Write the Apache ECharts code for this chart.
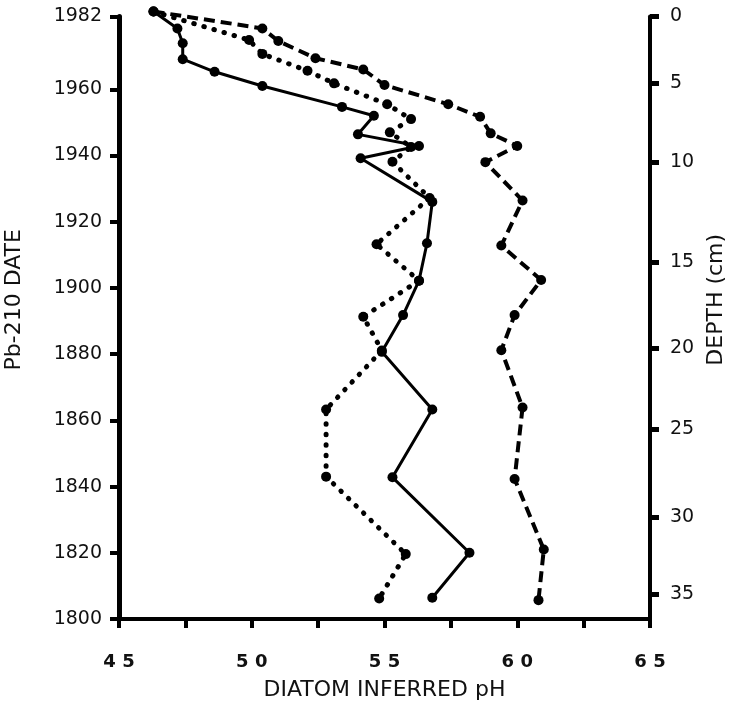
<!DOCTYPE html>
<html>
<head>
<meta charset="utf-8">
<script src="https://cdn.jsdelivr.net/npm/echarts@6/dist/echarts.min.js"></script>
<style>
html,body{margin:0;padding:0;background:#fff;}
#chart{width:745px;height:706px;}
</style>
</head>
<body>
<div id="chart"></div>
<script>
// Solid series: [pH, Pb-210 date]
const solidPH   = [4.63, 4.72, 4.74, 4.74, 4.86, 5.04, 5.34, 5.46, 5.40, 5.63, 5.41, 5.68, 5.66, 5.63, 5.57, 5.49, 5.68, 5.53, 5.82, 5.68];
const solidDate = [1983.5, 1978.4, 1973.9, 1969.1, 1965.3, 1961.0, 1954.7, 1952.0, 1946.4, 1942.9, 1939.2, 1926.0, 1913.5, 1902.2, 1891.8, 1880.7, 1863.3, 1842.8, 1820.0, 1806.4];
// Dashed series
const dashPH    = [4.63, 5.04, 5.10, 5.24, 5.42, 5.50, 5.74, 5.86, 5.90, 6.00, 5.88, 6.02, 5.94, 6.09, 5.99, 5.94, 6.02, 5.99, 6.10, 6.08];
const dashDate  = [1983.5, 1978.4, 1974.6, 1969.4, 1966.0, 1961.3, 1955.5, 1951.7, 1946.7, 1942.9, 1938.0, 1926.4, 1912.8, 1902.4, 1891.8, 1881.2, 1863.9, 1842.3, 1821.0, 1805.7];
// Dotted series
const dotPH     = [4.63, 4.99, 5.04, 5.21, 5.31, 5.51, 5.60, 5.52, 5.60, 5.53, 5.67, 5.47, 5.63, 5.42, 5.49, 5.28, 5.28, 5.58, 5.48];
const dotDate   = [1983.5, 1974.9, 1970.7, 1965.6, 1961.8, 1955.5, 1951.0, 1947.0, 1942.6, 1938.1, 1927.2, 1913.2, 1902.2, 1891.3, 1881.1, 1863.3, 1843.0, 1819.6, 1806.2];

// Axis ticks
const dateTicks  = [1800, 1820, 1840, 1860, 1880, 1900, 1920, 1940, 1960, 1982];
const phTicks    = [4.5, 5.0, 5.5, 6.0, 6.5];
const phLabels   = ['4 5', '5 0', '5 5', '6 0', '6 5'];
const depthLabels = [0, 5, 10, 15, 20, 25, 30, 35];
const depthDates  = [1982, 1961.9, 1938.0, 1907.8, 1881.8, 1857.4, 1830.8, 1807.5];

function pairs(xs, ys) { return xs.map((x, i) => [x, ys[i]]); }

const FONT = 'DejaVu Sans, Liberation Sans, sans-serif';
const chart = echarts.init(document.getElementById('chart'), null, {renderer: 'canvas'});

const markerBase = {symbol: 'circle', symbolSize: 10, itemStyle: {color: '#000'}, clip: false, z: 3};

chart.setOption({
  animation: false,
  backgroundColor: '#fff',
  grid: {left: 119, right: 95, top: 16.5, bottom: 87, containLabel: false, outerBoundsMode: 'none'},
  xAxis: {
    type: 'value', min: 4.5, max: 6.5, interval: 0.25,
    name: 'DIATOM INFERRED pH', nameLocation: 'middle', nameGap: 60,
    nameTextStyle: {fontFamily: FONT, fontSize: 22, color: '#111'},
    splitLine: {show: false},
    axisLine: {show: true, onZero: false, lineStyle: {color: '#000', width: 4}},
    axisTick: {show: true, inside: false, length: 9, lineStyle: {color: '#000', width: 4}},
    axisLabel: {
      customValues: phTicks, margin: 34,
      fontFamily: FONT, fontSize: 18, fontWeight: 'bold', color: '#111',
      formatter: v => { const i = phTicks.findIndex(t => Math.abs(t - v) < 1e-6); return i >= 0 ? phLabels[i] : ''; }
    }
  },
  yAxis: [
    {
      type: 'value', min: 1800, max: 1982, position: 'left',
      name: 'Pb-210 DATE', nameLocation: 'middle', nameGap: 94, nameRotate: 90,
      nameTextStyle: {fontFamily: FONT, fontSize: 22, color: '#111', padding: [0, 0, 0, 36]},
      splitLine: {show: false},
      axisLine: {show: true, onZero: false, lineStyle: {color: '#000', width: 5}},
      axisTick: {show: true, customValues: dateTicks, length: 9, lineStyle: {color: '#000', width: 4}},
      axisLabel: {customValues: dateTicks, margin: 17, fontFamily: FONT, fontSize: 19, color: '#111',
        formatter: v => String(Math.round(v))}
    },
    {
      type: 'value', min: 1800, max: 1982, position: 'right',
      name: 'DEPTH (cm)', nameLocation: 'middle', nameGap: 49, nameRotate: 90,
      nameTextStyle: {fontFamily: FONT, fontSize: 22, color: '#111', padding: [0, 0, 0, 36]},
      splitLine: {show: false},
      axisLine: {show: true, onZero: false, lineStyle: {color: '#000', width: 4}},
      axisTick: {show: true, customValues: depthDates, length: 9, lineStyle: {color: '#000', width: 5}},
      axisLabel: {
        customValues: depthDates, margin: 20, fontFamily: FONT, fontSize: 19, color: '#111',
        formatter: v => { const i = depthDates.findIndex(t => Math.abs(t - v) < 1e-6); return i >= 0 ? String(depthLabels[i]) : ''; }
      }
    }
  ],
  series: [
    Object.assign({}, markerBase, {
      name: 'solid', type: 'line', yAxisIndex: 0, data: pairs(solidPH, solidDate),
      lineStyle: {color: '#000', width: 3, type: 'solid'}
    }),
    Object.assign({}, markerBase, {
      name: 'dashed', type: 'line', yAxisIndex: 0, data: pairs(dashPH, dashDate),
      lineStyle: {color: '#000', width: 4, type: [11, 6]}
    }),
    Object.assign({}, markerBase, {
      name: 'dotted', type: 'line', yAxisIndex: 0, data: pairs(dotPH, dotDate),
      lineStyle: {color: '#000', width: 5, type: [0.5, 10], cap: 'round'}
    })
  ]
});
</script>
</body>
</html>
